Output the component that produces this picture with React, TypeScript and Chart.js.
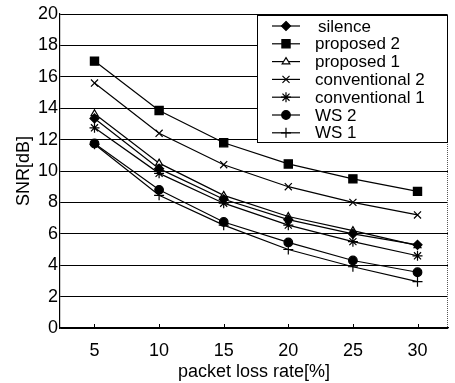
import React, { useEffect, useRef } from "react";
import { Chart, registerables } from "chart.js";

Chart.register(...registerables);

const packetLoss = [5, 10, 15, 20, 25, 30];
const xTicks = [5, 10, 15, 20, 25, 30];
const yTicks = [0, 2, 4, 6, 8, 10, 12, 14, 16, 18, 20];

const silence = [13.35, 10.15, 8.2, 6.9, 6.0, 5.3];
const proposed2 = [17.0, 13.85, 11.8, 10.45, 9.5, 8.7];
const proposed1 = [13.65, 10.5, 8.45, 7.1, 6.2, 5.25];
const conventional2 = [15.6, 12.4, 10.4, 9.0, 8.0, 7.2];
const conventional1 = [12.75, 9.85, 7.95, 6.55, 5.5, 4.6];
const ws2 = [11.75, 8.8, 6.75, 5.45, 4.3, 3.55];
const ws1 = [11.7, 8.45, 6.55, 5.0, 3.9, 2.95];

const seriesNames = ["silence", "proposed 2", "proposed 1", "conventional 2", "conventional 1", "WS 2", "WS 1"];
const seriesValues = [silence, proposed2, proposed1, conventional2, conventional1, ws2, ws1];
const seriesStyles = ["rectRot", "rect", "triangle", "crossRot", "star", "circle", "cross"];
const seriesRadius = [4.5, 5.8, 4, 5, 5, 4.3, 5];
const seriesFill = ["#000", "#000", "#fff", "#000", "#000", "#000", "#000"];

const FONT = "'Liberation Sans', Arial, Helvetica, sans-serif";

const framePlugin = {
  id: "frame",
  afterDraw(chart: any) {
    const { ctx, chartArea } = chart;
    const xs = chart.scales.x;
    ctx.save();
    // right dotted border
    ctx.strokeStyle = "#555";
    ctx.lineWidth = 1;
    ctx.setLineDash([1, 1]);
    ctx.beginPath();
    ctx.moveTo(chartArea.right - 0.5, chartArea.top);
    ctx.lineTo(chartArea.right - 0.5, chartArea.bottom);
    ctx.stroke();
    ctx.setLineDash([]);
    // small inner ticks at bottom
    ctx.strokeStyle = "#000";
    xTicks.forEach((v) => {
      const px = Math.round(xs.getPixelForValue(v)) + 0.5;
      ctx.beginPath();
      ctx.moveTo(px, chartArea.bottom);
      ctx.lineTo(px, chartArea.bottom - 4);
      ctx.stroke();
    });
    // legend
    const bx = 257, by = 15, bw = 190, bh = 127;
    ctx.fillStyle = "#fff";
    ctx.fillRect(bx, by, bw, bh);
    ctx.strokeStyle = "#000";
    ctx.lineWidth = 1;
    ctx.strokeRect(bx + 0.5, by + 0.5, bw, bh);
    ctx.font = `17px ${FONT}`;
    ctx.textBaseline = "middle";
    ctx.textAlign = "left";
    chart.data.datasets.forEach((ds: any, i: number) => {
      const cy = 26 + i * 17.8;
      ctx.strokeStyle = "#000";
      ctx.lineWidth = 1.2;
      ctx.beginPath();
      ctx.moveTo(272, cy);
      ctx.lineTo(300, cy);
      ctx.stroke();
      ctx.fillStyle = ds.pointBackgroundColor;
      ctx.strokeStyle = "#000";
      ctx.lineWidth = 1.2;
      (Chart as any).helpers
        ? null
        : null;
      drawPointShape(ctx, ds.pointStyle, ds.pointRadius, 286, cy);
      ctx.fillStyle = "#000";
      ctx.fillText(ds.label, i === 0 ? 318 : 315, cy + 1);
    });
    ctx.restore();
  },
};

function drawPointShape(ctx: CanvasRenderingContext2D, style: string, r: number, x: number, y: number) {
  ctx.beginPath();
  const s = Math.SQRT1_2 * r;
  switch (style) {
    case "rect":
      ctx.rect(x - s, y - s, 2 * s, 2 * s);
      ctx.fill();
      ctx.stroke();
      return;
    case "rectRot":
      ctx.moveTo(x, y - r);
      ctx.lineTo(x + r, y);
      ctx.lineTo(x, y + r);
      ctx.lineTo(x - r, y);
      ctx.closePath();
      ctx.fill();
      ctx.stroke();
      return;
    case "triangle": {
      const h = r * 1.5;
      ctx.moveTo(x, y - r);
      ctx.lineTo(x + r * 0.866 * 1.1, y + r * 0.5 * 1.1);
      ctx.lineTo(x - r * 0.866 * 1.1, y + r * 0.5 * 1.1);
      ctx.closePath();
      ctx.fill();
      ctx.stroke();
      void h;
      return;
    }
    case "circle":
      ctx.arc(x, y, r, 0, Math.PI * 2);
      ctx.fill();
      ctx.stroke();
      return;
    case "cross":
      ctx.moveTo(x - r, y);
      ctx.lineTo(x + r, y);
      ctx.moveTo(x, y - r);
      ctx.lineTo(x, y + r);
      ctx.stroke();
      return;
    case "crossRot":
      ctx.moveTo(x - s, y - s);
      ctx.lineTo(x + s, y + s);
      ctx.moveTo(x + s, y - s);
      ctx.lineTo(x - s, y + s);
      ctx.stroke();
      return;
    case "star":
      ctx.moveTo(x - r, y);
      ctx.lineTo(x + r, y);
      ctx.moveTo(x, y - r);
      ctx.lineTo(x, y + r);
      ctx.moveTo(x - s, y - s);
      ctx.lineTo(x + s, y + s);
      ctx.moveTo(x + s, y - s);
      ctx.lineTo(x - s, y + s);
      ctx.stroke();
      return;
  }
}

export default function App() {
  const ref = useRef<HTMLCanvasElement>(null);
  useEffect(() => {
    document.body.style.margin = "0";
    const chart = new Chart(ref.current!, {
      type: "line",
      data: {
        datasets: seriesNames.map((name, i) => ({
          label: name,
          data: packetLoss.map((x, j) => ({ x, y: seriesValues[i][j] })),
          borderColor: "#000",
          borderWidth: 1.2,
          pointStyle: seriesStyles[i] as any,
          pointRadius: seriesRadius[i],
          pointBorderColor: "#000",
          pointBackgroundColor: seriesFill[i],
          pointBorderWidth: 1.2,
          tension: 0,
          fill: false,
        })),
      },
      options: {
        animation: false,
        responsive: true,
        maintainAspectRatio: false,
        layout: { padding: { top: 14, right: 1, left: 0, bottom: 0 } },
        plugins: { legend: { display: false }, tooltip: { enabled: false } },
        scales: {
          x: {
            type: "linear",
            min: 2.33,
            max: 32.36,
            afterBuildTicks: (s: any) => {
              s.ticks = xTicks.map((v) => ({ value: v }));
            },
            afterFit: (s: any) => {
              s.height = 55;
            },
            grid: { display: false, drawTicks: false },
            border: { display: true, color: "#000", width: 1.2 },
            ticks: { color: "#000", font: { family: FONT, size: 18 }, padding: 12, maxRotation: 0 },
            title: {
              display: true,
              text: "packet loss rate[%]",
              color: "#000",
              font: { family: FONT, size: 18 },
              padding: { top: 0, bottom: 0 },
            },
          },
          y: {
            type: "linear",
            min: 0,
            max: 20,
            afterBuildTicks: (s: any) => {
              s.ticks = yTicks.map((v) => ({ value: v }));
            },
            afterFit: (s: any) => {
              s.width = 60;
            },
            grid: { color: "#000", lineWidth: 1, drawTicks: false },
            border: { display: true, color: "#000", width: 1.2 },
            ticks: { color: "#000", font: { family: FONT, size: 18 }, padding: 2 },
            title: {
              display: true,
              text: "SNR[dB]",
              color: "#000",
              font: { family: FONT, size: 18 },
              padding: { top: 13, bottom: 0 },
            },
          },
        },
      },
      plugins: [framePlugin],
    });
    return () => chart.destroy();
  }, []);
  return (
    <div style={{ position: "absolute", left: 0, top: 0, width: 455, height: 383 }}>
      <canvas ref={ref} />
    </div>
  );
}
